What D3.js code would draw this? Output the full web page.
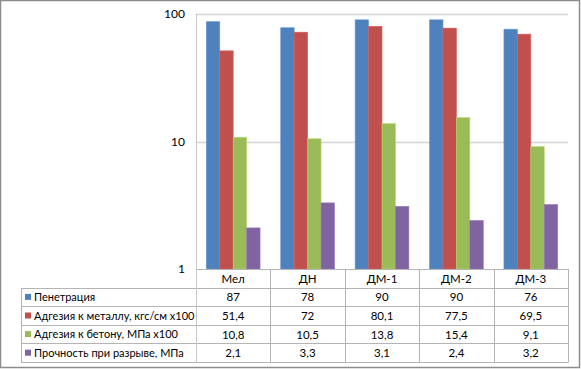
<!DOCTYPE html>
<html><head><meta charset="utf-8">
<script src="https://cdn.jsdelivr.net/npm/d3@7"></script>
<style>html,body{margin:0;padding:0;background:#fff;}svg{display:block;}</style>
</head><body>
<script>
const categories = ["Мел", "ДН", "ДМ-1", "ДМ-2", "ДМ-3"];
const seriesNames = ["Пенетрация", "Адгезия к металлу, кгс/см х100", "Адгезия к бетону, МПа х100", "Прочность при разрыве, МПа"];
const penetration = [87, 78, 90, 90, 76];
const adhesionMetal = [51.4, 72, 80.1, 77.5, 69.5];
const adhesionConcrete = [10.8, 10.5, 13.8, 15.4, 9.1];
const strength = [2.1, 3.3, 3.1, 2.4, 3.2];
const seriesLabels = [
  ["87","78","90","90","76"],
  ["51,4","72","80,1","77,5","69,5"],
  ["10,8","10,5","13,8","15,4","9,1"],
  ["2,1","3,3","3,1","2,4","3,2"]
];
const yTicks = [1, 10, 100];
const colors = ["#4F81BD", "#C0504D", "#9BBB59", "#8064A2"];
const seriesValues = [penetration, adhesionMetal, adhesionConcrete, strength];

const W = 581, H = 369;
const font = "Lato, 'Open Sans', sans-serif";
const svg = d3.select("body").append("svg").attr("width", W).attr("height", H);
svg.append("rect").attr("x",0).attr("y",0).attr("width",W).attr("height",H).attr("fill","#fff");

const pL = 196, pR = 568, pT = 14, pB = 269;
const tableLeft = 21;
const rowH = 18.6;

const x = d3.scaleBand().domain(categories).range([pL, pR]).paddingInner(0.278).paddingOuter(0.139);
const xs = d3.scaleBand().domain(d3.range(4)).range([0, x.bandwidth()]);
const y = d3.scaleLog().domain([1, 100]).range([pB, pT]);

svg.append("g").selectAll("line").data(yTicks.filter(t => t > 1)).join("line")
  .attr("x1", pL).attr("x2", pR)
  .attr("y1", d => Math.round(y(d)) + 0.5).attr("y2", d => Math.round(y(d)) + 0.5)
  .attr("stroke", "#d4d4d4").attr("stroke-width", 1.5);

const yAxis = d3.axisLeft(y).tickValues(yTicks).tickFormat(d3.format("d")).tickSize(0).tickPadding(11);
const ga = svg.append("g").attr("transform", `translate(${pL},0)`).call(yAxis);
ga.select(".domain").attr("stroke", "#c8c8c8");
ga.selectAll("text").attr("font-family", font).attr("font-size", 12).attr("fill", "#000");

const flat = [];
seriesValues.forEach((vals, si) => vals.forEach((v, ci) => flat.push({si, ci, v})));
svg.append("g").selectAll("rect").data(flat).join("rect")
  .attr("x", d => x(categories[d.ci]) + xs(d.si))
  .attr("y", d => y(d.v))
  .attr("width", xs.bandwidth())
  .attr("height", d => pB - y(d.v))
  .attr("fill", d => colors[d.si])
  .attr("stroke", d => d3.color(colors[d.si]).brighter(0.4))
  .attr("stroke-width", 0.6);

const tg = svg.append("g");
const lineColor = "#b4b4b4";
const tableBottom = pB + rowH * 5;
tg.append("line").attr("x1", pL).attr("x2", pR).attr("y1", pB + 0.5).attr("y2", pB + 0.5).attr("stroke", lineColor);
d3.range(1, 6).forEach(i => {
  const yy = Math.round(pB + rowH * i) + 0.5;
  tg.append("line").attr("x1", tableLeft).attr("x2", pR).attr("y1", yy).attr("y2", yy).attr("stroke", lineColor);
});
const bounds = categories.map((c, i) => pL + (pR - pL) / 5 * i).concat([pR]);
bounds.forEach((bx, i) => {
  tg.append("line").attr("x1", Math.round(bx) + 0.5).attr("x2", Math.round(bx) + 0.5)
    .attr("y1", i === 0 ? pT : pB).attr("y2", Math.round(tableBottom) + 0.5).attr("stroke", i === 0 ? "#c8c8c8" : lineColor);
});
tg.append("line").attr("x1", tableLeft + 0.5).attr("x2", tableLeft + 0.5)
  .attr("y1", Math.round(pB + rowH) + 0.5).attr("y2", Math.round(tableBottom) + 0.5).attr("stroke", lineColor);

tg.selectAll("text.hdr").data(categories).join("text").attr("class", "hdr")
  .attr("x", d => x(d) + x.bandwidth() / 2).attr("y", pB + rowH / 2 + 4.5)
  .attr("text-anchor", "middle").attr("font-family", font).attr("font-size", 11.5).attr("fill", "#000").text(d => d);

seriesNames.forEach((name, si) => {
  const ry = pB + rowH * (si + 1);
  tg.append("rect").attr("x", 25).attr("y", ry + rowH / 2 - 3).attr("width", 6).attr("height", 6).attr("fill", colors[si]);
  tg.append("text").attr("x", 34).attr("y", ry + rowH / 2 + 4)
    .attr("font-family", font).attr("font-size", 11).attr("fill", "#000").text(name);
  tg.selectAll(null).data(seriesLabels[si]).join("text")
    .attr("x", (d, ci) => x(categories[ci]) + x.bandwidth() / 2).attr("y", ry + rowH / 2 + 4.5)
    .attr("text-anchor", "middle").attr("font-family", font).attr("font-size", 11.5).attr("fill", "#000").text(d => d);
});

svg.append("rect").attr("x", 0.5).attr("y", 0.5).attr("width", W - 2).attr("height", H - 2)
  .attr("fill", "none").attr("stroke", "#8c8c8c").attr("stroke-width", 1.5);
</script>
</body></html>
